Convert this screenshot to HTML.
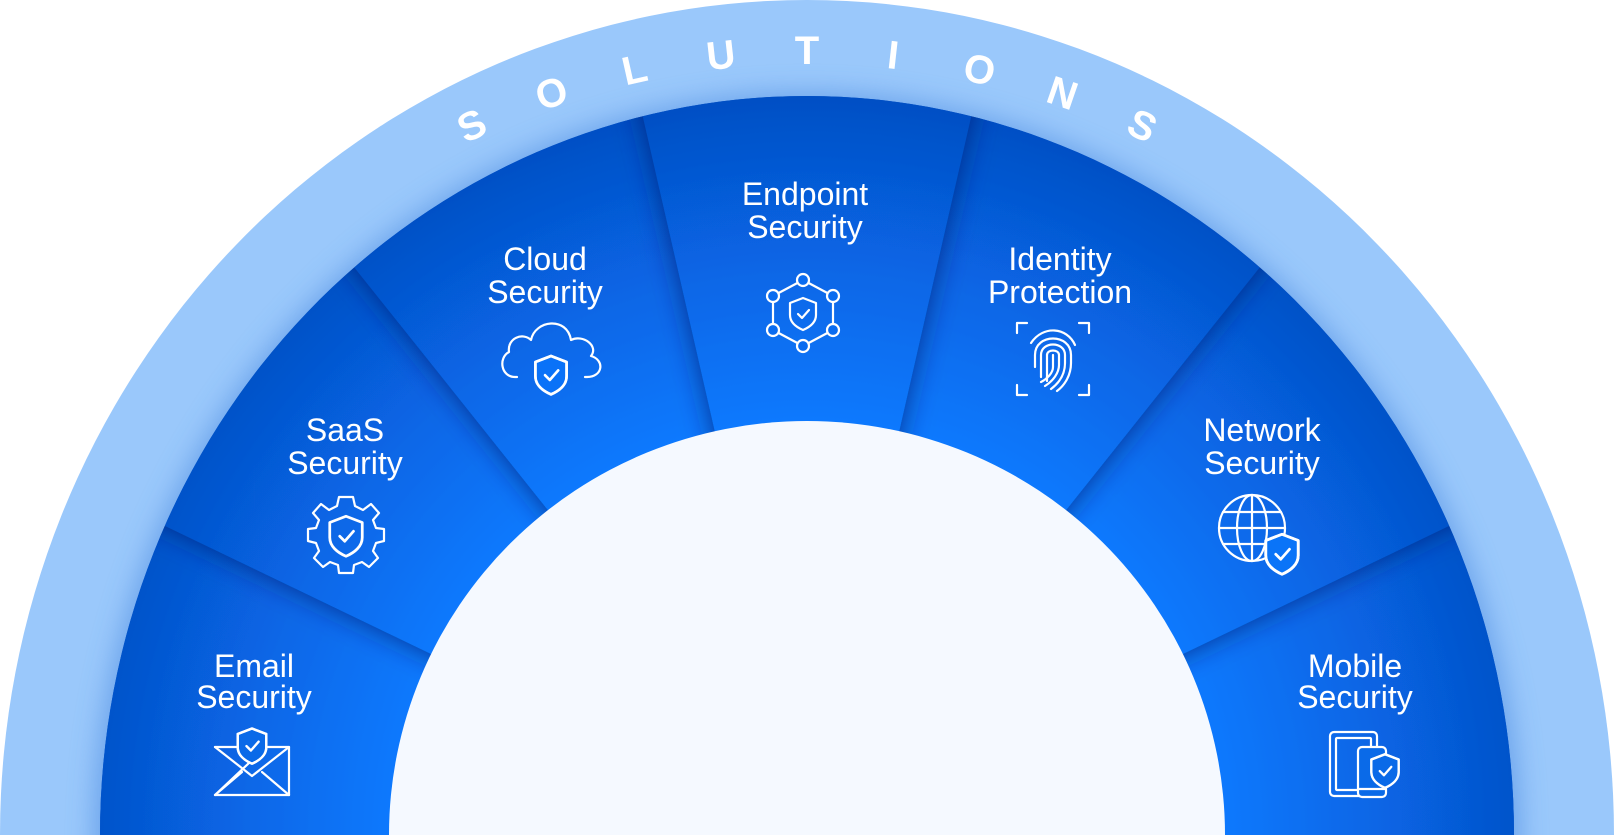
<!DOCTYPE html>
<html><head><meta charset="utf-8"><style>
html,body{margin:0;padding:0;background:#fff;overflow:hidden;width:1614px;height:835px;}
svg{display:block;}
text{font-family:"Liberation Sans",sans-serif;}
</style></head><body>
<svg width="1614" height="835" viewBox="0 0 1614 835" xmlns="http://www.w3.org/2000/svg">
<defs>
  <radialGradient id="wg" gradientUnits="userSpaceOnUse" cx="807" cy="835" r="740">
    <stop offset="0.55" stop-color="#0a7aff"/>
    <stop offset="0.8" stop-color="#0763e2"/>
    <stop offset="1" stop-color="#054fc4"/>
  </radialGradient>
  <clipPath id="dk"><ellipse cx="807" cy="835" rx="707" ry="739"/></clipPath>
  <filter id="ds" x="-50%" y="-50%" width="200%" height="200%">
    <feDropShadow dx="0" dy="0" stdDeviation="14" flood-color="#02246e" flood-opacity="0.75"/>
  </filter>
  <filter id="bl" x="-20%" y="-20%" width="140%" height="140%"><feGaussianBlur stdDeviation="14"/></filter>
  <g id="sh"><path d="M0,-15 L13,-10 V2 C13,9 7,14 0,17 C-7,14 -13,9 -13,2 V-10 Z" fill="none" stroke="#fff" stroke-width="2.2" stroke-linejoin="round"/><path d="M-5,1 L-1,5 L6,-3" fill="none" stroke="#fff" stroke-width="2.2" stroke-linecap="round" stroke-linejoin="round"/></g>
</defs>
<ellipse cx="807" cy="835" rx="807" ry="835" fill="#9ac8fb"/>
<ellipse cx="807" cy="840" rx="712" ry="746" fill="#3c7fdc" opacity="0.55" filter="url(#bl)"/>
<g clip-path="url(#dk)">
  <rect x="0" y="0" width="1614" height="835" fill="#0650c6"/>
  <g fill="url(#wg)">
    <polygon filter="url(#ds)" points="807,835 -293,835 -184,358"/>
    <polygon filter="url(#ds)" points="807,835 1907,835 1798,358"/>
    <polygon filter="url(#ds)" points="807,835 -184,358 121,-25"/>
    <polygon filter="url(#ds)" points="807,835 1798,358 1493,-25"/>
    <polygon filter="url(#ds)" points="807,835 121,-25 562,-237"/>
    <polygon filter="url(#ds)" points="807,835 1493,-25 1052,-237"/>
    <polygon filter="url(#ds)" points="807,835 562,-237 1052,-237"/>
  </g>
</g>
<ellipse cx="807" cy="835" rx="418" ry="414" fill="#f5f9ff"/>

<g fill="#fff" font-size="40" font-weight="bold" text-anchor="middle">
  <text x="807" y="64" transform="rotate(-25.3 807 835)">S</text>
  <text x="807" y="64" transform="rotate(-19 807 835)">O</text>
  <text x="807" y="64" transform="rotate(-12.7 807 835)">L</text>
  <text x="807" y="64" transform="rotate(-6.3 807 835)">U</text>
  <text x="807" y="64" transform="rotate(0 807 835)">T</text>
  <text x="807" y="64" transform="rotate(6.3 807 835)">I</text>
  <text x="807" y="64" transform="rotate(12.7 807 835)">O</text>
  <text x="807" y="64" transform="rotate(19 807 835)">N</text>
  <text x="807" y="64" transform="rotate(25.3 807 835)">S</text>
</g>

<g fill="#fff" font-size="32" text-anchor="middle">
  <text x="805" y="205">Endpoint</text><text x="805" y="238">Security</text>
  <text x="545" y="270">Cloud</text><text x="545" y="303">Security</text>
  <text x="1060" y="270">Identity</text><text x="1060" y="303">Protection</text>
  <text x="345" y="441">SaaS</text><text x="345" y="474">Security</text>
  <text x="1262" y="441">Network</text><text x="1262" y="474">Security</text>
  <text x="254" y="677">Email</text><text x="254" y="708">Security</text>
  <text x="1355" y="677">Mobile</text><text x="1355" y="708">Security</text>
</g>

<g fill="none" stroke="#fff" stroke-width="2.2" stroke-linejoin="round" stroke-linecap="round">
  <g transform="translate(803,313)">
    <path d="M0,-33 L30,-17 L30,17 L0,33 L-30,17 L-30,-17 Z"/>
    <g fill="#0a6cf0"><circle cx="0" cy="-33" r="6"/><circle cx="30" cy="-17" r="6"/><circle cx="30" cy="17" r="6"/><circle cx="0" cy="33" r="6"/><circle cx="-30" cy="17" r="6"/><circle cx="-30" cy="-17" r="6"/></g>
    <use href="#sh"/>
  </g>
  <g transform="translate(551,360)">
    <path d="M-34,17 H-36 C-50,17 -53,-2 -42,-8 C-44,-22 -28,-28 -20,-20 C-16,-40 16,-44 20,-20 C32,-26 48,-14 40,-4 C54,0 52,17 36,17 H34" fill="none"/>
    <g transform="translate(0,14) scale(1.2)" ><path d="M0,-15 L13,-10 V2 C13,9 7,14 0,17 C-7,14 -13,9 -13,2 V-10 Z" fill="#0a72f8"/></g>
    <g transform="translate(0,14) scale(1.2)"><use href="#sh"/></g>
  </g>
  <g transform="translate(1053,359)">
    <path d="M-36,-26 V-36 H-26 M26,-36 H36 V-26 M36,26 V36 H26 M-26,36 H-36 V26"/>
    <path d="M-18,8 V-4 C-18,-26 18,-26 18,-4 V4 C18,16 12,26 4,32"/>
    <path d="M-12,18 V-4 C-12,-18 12,-18 12,-4 V4 C12,16 6,24 -2,30"/>
    <path d="M-6,22 V-4 C-6,-10 6,-10 6,-4 V6 C6,14 0,22 -8,27"/>
    <path d="M0,-4 V8 C0,14 -6,20 -12,23"/>
    <path d="M-22,-16 C-10,-34 14,-32 22,-14"/>
  </g>
  <g transform="translate(346,535)">
    <path d="M-7,-38 H7 L9,-29 L17,-25 L25,-31 L33,-22 L27,-15 L30,-7 L38,-6 V6 L30,8 L27,16 L32,23 L23,32 L16,27 L8,30 L7,38 H-7 L-8,30 L-16,27 L-23,32 L-32,23 L-27,16 L-30,8 L-38,6 V-6 L-30,-7 L-27,-15 L-33,-22 L-25,-31 L-17,-25 L-9,-29 Z"/>
    <g transform="scale(1.25)"><use href="#sh"/></g>
  </g>
  <g transform="translate(1252,528)">
    <circle r="33"/><ellipse rx="15" ry="33"/><path d="M0,-33 V33 M-33,0 H33 M-29,-16 H29 M-29,16 H29"/>
    <g transform="translate(30,25) scale(1.25)"><path d="M0,-15 L13,-10 V2 C13,9 7,14 0,17 C-7,14 -13,9 -13,2 V-10 Z" fill="#0a74f8"/></g>
    <g transform="translate(30,25) scale(1.25)"><use href="#sh"/></g>
  </g>
  <g transform="translate(252,770)">
    <path d="M-37,-23 H-14 M14,-23 H37 V25 H-37 Z"/>
    <path d="M-37,-23 L0,6 L37,-23 M-37,25 L-10,2 M37,25 L10,2"/>
    <g transform="translate(0,-25) scale(1.1)"><path d="M0,-15 L13,-10 V2 C13,9 7,14 0,17 C-7,14 -13,9 -13,2 V-10 Z" fill="#0a6ae8"/></g>
    <g transform="translate(0,-25) scale(1.1)"><use href="#sh"/></g>
  </g>
  <g>
    <rect x="1330" y="732" width="47" height="64" rx="4"/>
    <rect x="1336" y="738" width="35" height="52" rx="1"/>
    <rect x="1358" y="747" width="28" height="50" rx="4" fill="#0a6ae8"/>
    <path d="M1358,789 H1386"/>
    <g transform="translate(1385,770) scale(1.05)"><path d="M0,-15 L13,-10 V2 C13,9 7,14 0,17 C-7,14 -13,9 -13,2 V-10 Z" fill="#0a6ae8"/></g>
    <g transform="translate(1385,770) scale(1.05)"><use href="#sh"/></g>
  </g>
</g>
</svg>
</body></html>
